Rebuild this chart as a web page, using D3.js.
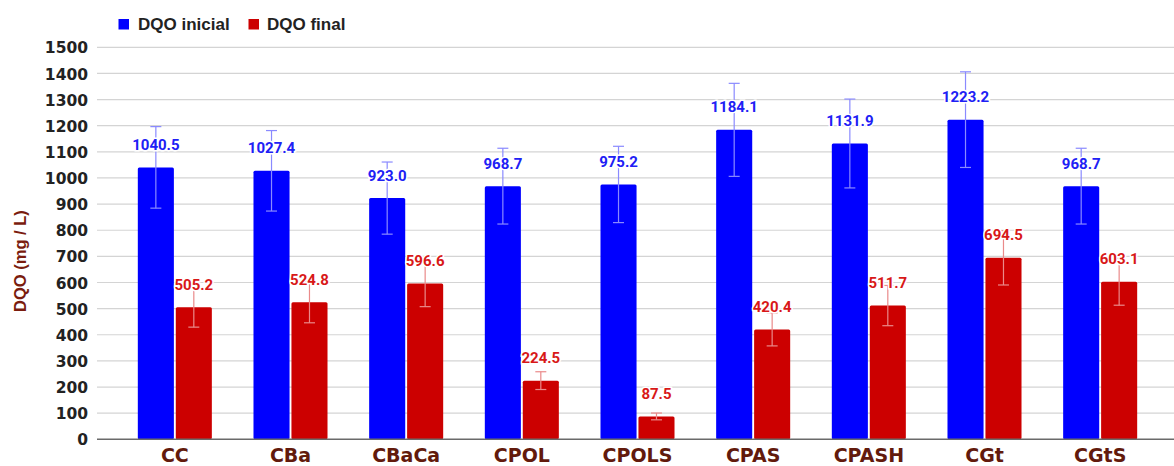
<!DOCTYPE html>
<html>
<head>
<meta charset="utf-8">
<script src="https://cdn.jsdelivr.net/npm/d3@7/dist/d3.min.js"></script>
<style>
  html, body { margin: 0; padding: 0; background: #fff; }
  svg { display: block; }
</style>
</head>
<body>
<svg id="chart" width="1174" height="466"></svg>
<script>
// Sample groups
const categories = ["CC", "CBa", "CBaCa", "CPOL", "CPOLS", "CPAS", "CPASH", "CGt", "CGtS"];

// Series values (mg/L)
const dqoInicial = [1040.5, 1027.4, 923.0, 968.7, 975.2, 1184.1, 1131.9, 1223.2, 968.7];
const dqoFinal   = [505.2, 524.8, 596.6, 224.5, 87.5, 420.4, 511.7, 694.5, 603.1];

// Error bar half-widths (mg/L)
const errInicial = [156, 154, 138, 145, 146, 178, 170, 183, 145];
const errFinal   = [76, 79, 89, 34, 13, 63, 77, 104, 90];

// Axis ticks
const yTicks = [0, 100, 200, 300, 400, 500, 600, 700, 800, 900, 1000, 1100, 1200, 1300, 1400, 1500];

const seriesNames = ["DQO inicial", "DQO final"];
const seriesColors = ["#0000ff", "#cc0000"];
const labelColors = ["#2020f5", "#d81818"];
const errColors = ["#8a8aff", "#ea8a8a"];

const series = [
  { key: "ini", name: seriesNames[0], values: dqoInicial, errors: errInicial },
  { key: "fin", name: seriesNames[1], values: dqoFinal, errors: errFinal }
];

const svg = d3.select("#chart");

const gridLeft = 97, gridRight = 1174;
const y = d3.scaleLinear().domain([0, 1500]).range([439.3, 47.3]);
const x0 = d3.scaleBand().domain(categories).range([117, 1158]).paddingInner(0.36).paddingOuter(0.18);
const x1 = d3.scaleBand().domain(series.map(s => s.key)).range([0, x0.bandwidth()]).paddingInner(0.05);

// Horizontal grid
svg.append("g")
  .selectAll("line")
  .data(yTicks.filter(t => t > 0))
  .join("line")
  .attr("x1", gridLeft).attr("x2", gridRight)
  .attr("y1", d => y(d)).attr("y2", d => y(d))
  .attr("stroke", "#d4d4d4").attr("stroke-width", 1.2);

// Y axis labels
const yAxis = d3.axisLeft(y).tickValues(yTicks).tickSize(0).tickPadding(0).tickFormat(d3.format("d"));
const yg = svg.append("g").attr("transform", "translate(88,0)").call(yAxis);
yg.select(".domain").remove();
yg.selectAll("text")
  .attr("font-family", "DejaVu Sans, Verdana, sans-serif")
  .attr("font-weight", "bold")
  .attr("font-size", "15.5px")
  .attr("fill", "#222")
  .attr("dy", "0.36em");

// Y axis title
svg.append("text")
  .attr("transform", "translate(26,261) rotate(-90)")
  .attr("text-anchor", "middle")
  .attr("font-family", "Liberation Sans, Arial, sans-serif")
  .attr("font-weight", "bold")
  .attr("font-size", "16.5px")
  .attr("fill", "#7a1c0e")
  .text("DQO (mg / L)");

// Bars
const groups = svg.append("g")
  .selectAll("g")
  .data(categories.map((c, i) => ({ c, i })))
  .join("g")
  .attr("transform", d => `translate(${x0(d.c)},0)`);

series.forEach((s, si) => {
  groups.append("rect")
    .attr("x", x1(s.key))
    .attr("width", x1.bandwidth())
    .attr("y", d => y(s.values[d.i]))
    .attr("height", d => y(0) - y(s.values[d.i]))
    .attr("rx", 1.5)
    .attr("fill", seriesColors[si]);
});

// Error bars
series.forEach((s, si) => {
  const eb = groups.append("g")
    .attr("stroke", errColors[si])
    .attr("stroke-width", 1.2);
  const cx = x1(s.key) + x1.bandwidth() / 2;
  eb.append("line")
    .attr("x1", cx).attr("x2", cx)
    .attr("y1", d => y(s.values[d.i] + s.errors[d.i]))
    .attr("y2", d => y(s.values[d.i] - s.errors[d.i]));
  [1, -1].forEach(sign => {
    eb.append("line")
      .attr("x1", cx - 5.5).attr("x2", cx + 5.5)
      .attr("y1", d => y(s.values[d.i] + sign * s.errors[d.i]))
      .attr("y2", d => y(s.values[d.i] + sign * s.errors[d.i]));
  });
});

// Value labels
series.forEach((s, si) => {
  groups.append("text")
    .attr("x", x1(s.key) + x1.bandwidth() / 2)
    .attr("y", d => y(s.values[d.i]) - 17.5)
    .attr("text-anchor", "middle")
    .attr("font-family", "Roboto, sans-serif")
    .attr("font-weight", "bold")
    .attr("font-size", "15px")
    .attr("fill", labelColors[si])
    .attr("stroke", "#fff")
    .attr("stroke-width", 3)
    .attr("paint-order", "stroke")
    .text(d => s.values[d.i].toFixed(1));
});

// Baseline
svg.append("line")
  .attr("x1", gridLeft).attr("x2", gridRight)
  .attr("y1", y(0)).attr("y2", y(0))
  .attr("stroke", "#6a6a6a").attr("stroke-width", 1.5);

// X axis labels
const xAxis = d3.axisBottom(x0).tickSize(0).tickPadding(0);
const xg = svg.append("g").attr("transform", "translate(0,461.5)").call(xAxis);
xg.select(".domain").remove();
xg.selectAll("text")
  .attr("y", 0).attr("dy", 0)
  .attr("font-family", "DejaVu Sans, Verdana, sans-serif")
  .attr("font-weight", "bold")
  .attr("font-size", "19px")
  .attr("fill", "#621a0c");

// Legend
const legendItems = [
  { name: seriesNames[0], color: seriesColors[0], sx: 118.5, tx: 138 },
  { name: seriesNames[1], color: seriesColors[1], sx: 248.5, tx: 267 }
];
const lg = svg.append("g");
legendItems.forEach(it => {
  lg.append("rect").attr("x", it.sx).attr("y", 19).attr("width", 10.5).attr("height", 10.5).attr("fill", it.color);
  lg.append("text")
    .attr("x", it.tx).attr("y", 29.5)
    .attr("font-family", "Liberation Sans, Arial, sans-serif")
    .attr("font-weight", "bold")
    .attr("font-size", "17px")
    .attr("fill", "#222")
    .text(it.name);
});
</script>
</body>
</html>
